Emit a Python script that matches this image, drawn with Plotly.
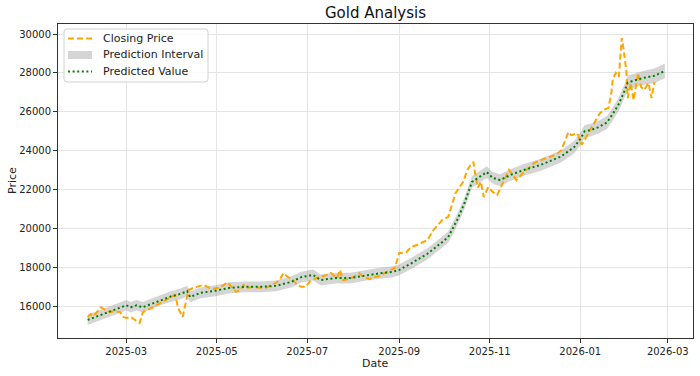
import plotly.graph_objects as go

# ---- data ----
close_dates = [
    "2025-02-03", "2025-02-05", "2025-02-07", "2025-02-10", "2025-02-12", "2025-02-14",
    "2025-02-18", "2025-02-21", "2025-02-25", "2025-02-27", "2025-03-01", "2025-03-04",
    "2025-03-07", "2025-03-10", "2025-03-12", "2025-03-14", "2025-03-18", "2025-03-21",
    "2025-03-25", "2025-03-28", "2025-03-31", "2025-04-03", "2025-04-05", "2025-04-08",
    "2025-04-10", "2025-04-12", "2025-04-15", "2025-04-18", "2025-04-22", "2025-04-26",
    "2025-04-29", "2025-05-02", "2025-05-06", "2025-05-08", "2025-05-11", "2025-05-14",
    "2025-05-17", "2025-05-19", "2025-05-22", "2025-05-26", "2025-05-30", "2025-06-03",
    "2025-06-07", "2025-06-10", "2025-06-13", "2025-06-15", "2025-06-18", "2025-06-21",
    "2025-06-24", "2025-06-27", "2025-06-30", "2025-07-03", "2025-07-07", "2025-07-10",
    "2025-07-14", "2025-07-17", "2025-07-21", "2025-07-23", "2025-07-25", "2025-07-29",
    "2025-08-01", "2025-08-05", "2025-08-08", "2025-08-12", "2025-08-15", "2025-08-19",
    "2025-08-22", "2025-08-26", "2025-08-29", "2025-09-01", "2025-09-03", "2025-09-06",
    "2025-09-09", "2025-09-13", "2025-09-16", "2025-09-20", "2025-09-24", "2025-09-30",
    "2025-10-04", "2025-10-09", "2025-10-14", "2025-10-17", "2025-10-19", "2025-10-21",
    "2025-10-22", "2025-10-24", "2025-10-26", "2025-10-28", "2025-10-31", "2025-11-03",
    "2025-11-06", "2025-11-09", "2025-11-12", "2025-11-14", "2025-11-17", "2025-11-19",
    "2025-11-24", "2025-11-27", "2025-12-01", "2025-12-05", "2025-12-10", "2025-12-14",
    "2025-12-17", "2025-12-19", "2025-12-22", "2025-12-24", "2025-12-26", "2025-12-30",
    "2026-01-02", "2026-01-05", "2026-01-08", "2026-01-12", "2026-01-14", "2026-01-17",
    "2026-01-20", "2026-01-22", "2026-01-23", "2026-01-25", "2026-01-27", "2026-01-29",
    "2026-01-30", "2026-02-01", "2026-02-02", "2026-02-04", "2026-02-06", "2026-02-09",
    "2026-02-11", "2026-02-13", "2026-02-16", "2026-02-18", "2026-02-20",
]
close_values = [
    15450, 15600, 15500, 15750, 15950, 15850,
    15700, 15750, 15700, 15450, 15400, 15450,
    15300, 15140, 15650, 15800, 15900, 16050,
    16200, 16350, 16480, 16580, 15900, 15450,
    16220, 16840, 16940, 17000, 17100, 16940,
    16900, 16950, 17100, 17250, 17000, 16740,
    16840, 17100, 16950, 17000, 16950, 16950,
    17100, 17200, 17450, 17710, 17500, 17400,
    17100, 17000, 17000, 17300, 17450, 17500,
    17600, 17710, 17450, 17870, 17350, 17400,
    17500, 17700, 17500, 17400, 17500, 17550,
    17700, 17850, 17970, 18740, 18740, 18790,
    19050, 19150, 19250, 19410, 19920, 20430,
    20600, 21830, 22390, 23010, 23260, 23420,
    22900, 22100, 22400, 21620, 22130, 21880,
    21720, 22200, 22750, 23010, 22700, 22490,
    22900, 23110, 23370, 23500, 23630, 23750,
    23880, 24000, 24550, 24960, 24800, 24900,
    24300, 24700, 25100, 25700, 25900, 26100,
    26200, 27000, 27700, 28000, 27790, 29790,
    29330, 28150, 26700, 27480, 26600, 27990,
    27280, 27120, 27480, 26700, 27530,
]

pred_dates = [
    "2025-02-03", "2025-02-10", "2025-02-17", "2025-02-24", "2025-03-01", "2025-03-04",
    "2025-03-08", "2025-03-12", "2025-03-17", "2025-03-24", "2025-03-31", "2025-04-07",
    "2025-04-11", "2025-04-13", "2025-04-20", "2025-04-30", "2025-05-10", "2025-05-20",
    "2025-05-31", "2025-06-10", "2025-06-20", "2025-06-27", "2025-07-05", "2025-07-10",
    "2025-07-20", "2025-07-30", "2025-08-10", "2025-08-20", "2025-08-27", "2025-09-01",
    "2025-09-10", "2025-09-20", "2025-09-30", "2025-10-04", "2025-10-10", "2025-10-15",
    "2025-10-20", "2025-10-25", "2025-10-30", "2025-11-03", "2025-11-08", "2025-11-15",
    "2025-11-24", "2025-12-05", "2025-12-19", "2025-12-28", "2026-01-01", "2026-01-04",
    "2026-01-08", "2026-01-13", "2026-01-19", "2026-01-23", "2026-01-27", "2026-01-31",
    "2026-02-02", "2026-02-06", "2026-02-13", "2026-02-20", "2026-02-27",
]
pred_values = [
    15300, 15500, 15700, 15900, 16050, 15950,
    16050, 15950, 16100, 16330, 16500, 16650,
    16780, 16480, 16690, 16800, 16950, 17000,
    17000, 17050, 17250, 17500, 17610, 17350,
    17450, 17450, 17600, 17710, 17760, 17870,
    18250, 18700, 19300, 19560, 20430, 21310,
    22390, 22650, 22900, 22600, 22490, 22750,
    23010, 23260, 23700, 24190, 24600, 25000,
    25060, 25200, 25450, 25900, 26400, 27100,
    27500, 27600, 27750, 27850, 28100,
]
# half-width of the prediction interval at each predicted point
pred_half = [
    260, 260, 260, 270, 270, 270,
    270, 270, 270, 270, 280, 280,
    280, 280, 280, 280, 280, 280,
    280, 280, 280, 280, 280, 280,
    280, 280, 280, 280, 280, 280,
    290, 290, 290, 290, 300, 300,
    300, 300, 300, 300, 300, 300,
    300, 310, 310, 320, 320, 320,
    330, 330, 330, 340, 340, 350,
    350, 360, 360, 370, 380,
]

title_text = "Gold Analysis"
x_title = "Date"
y_title = "Price"
legend_names = ["Closing Price", "Prediction Interval", "Predicted Value"]

upper = [v + h for v, h in zip(pred_values, pred_half)]
lower = [v - h for v, h in zip(pred_values, pred_half)]

FONT = "DejaVu Sans"
W, H = 700, 376
L, R, T, B = 58, 7, 24, 38          # plot area: x 58..693, y 24..338
PW, PH = W - L - R, H - T - B

ORANGE = "#FFA500"
GREEN = "#008000"
BAND = "rgba(150,150,150,0.4)"
CLOSE_DASH = "6px,3px"
PRED_DASH = "2px,2.6px"


def px_x(px):
    return (px - L) / PW


def px_y(py):
    return (H - B - py) / PH


fig = go.Figure()

fig.add_trace(go.Scatter(
    x=pred_dates + pred_dates[::-1],
    y=upper + lower[::-1],
    fill="toself", fillcolor=BAND,
    line=dict(width=0, color="rgba(0,0,0,0)"),
    mode="lines", name=legend_names[1], hoverinfo="skip", showlegend=False,
))
fig.add_trace(go.Scatter(
    x=close_dates, y=close_values, mode="lines",
    line=dict(color=ORANGE, width=2, dash=CLOSE_DASH),
    name=legend_names[0], showlegend=False,
))
fig.add_trace(go.Scatter(
    x=pred_dates, y=pred_values, mode="lines",
    line=dict(color=GREEN, width=2, dash=PRED_DASH),
    name=legend_names[2], showlegend=False,
))

axis_common = dict(
    showline=True, linecolor="#333", linewidth=1, mirror=True,
    showgrid=True, gridcolor="#e5e5e5", gridwidth=1,
    ticks="outside", ticklen=4, tickcolor="#333", tickwidth=1,
    tickfont=dict(family=FONT, size=10, color="#222"),
    zeroline=False, automargin=False,
)

# ---- hand-built legend (matplotlib style, upper left) ----
lg_left, lg_right, lg_top, lg_bottom = 64, 208, 29, 82
r = 3
shapes = [dict(
    type="path", xref="paper", yref="paper", layer="above",
    path=(f"M {px_x(lg_left + r)} {px_y(lg_top)} L {px_x(lg_right - r)} {px_y(lg_top)} "
          f"Q {px_x(lg_right)} {px_y(lg_top)} {px_x(lg_right)} {px_y(lg_top + r)} "
          f"L {px_x(lg_right)} {px_y(lg_bottom - r)} "
          f"Q {px_x(lg_right)} {px_y(lg_bottom)} {px_x(lg_right - r)} {px_y(lg_bottom)} "
          f"L {px_x(lg_left + r)} {px_y(lg_bottom)} "
          f"Q {px_x(lg_left)} {px_y(lg_bottom)} {px_x(lg_left)} {px_y(lg_bottom - r)} "
          f"L {px_x(lg_left)} {px_y(lg_top + r)} "
          f"Q {px_x(lg_left)} {px_y(lg_top)} {px_x(lg_left + r)} {px_y(lg_top)} Z"),
    fillcolor="rgba(255,255,255,0.85)", line=dict(color="#d0d0d0", width=1),
)]
rows = [38.5, 55, 71.5]
h_x0, h_x1, txt_x = 68, 92, 101
shapes.append(dict(type="line", xref="paper", yref="paper", layer="above",
                   x0=px_x(h_x0), x1=px_x(h_x1), y0=px_y(rows[0]), y1=px_y(rows[0]),
                   line=dict(color=ORANGE, width=2, dash=CLOSE_DASH)))
shapes.append(dict(type="rect", xref="paper", yref="paper", layer="above",
                   x0=px_x(h_x0), x1=px_x(h_x1), y0=px_y(rows[1] - 4), y1=px_y(rows[1] + 4),
                   fillcolor=BAND, line=dict(width=0)))
shapes.append(dict(type="line", xref="paper", yref="paper", layer="above",
                   x0=px_x(h_x0), x1=px_x(h_x1), y0=px_y(rows[2]), y1=px_y(rows[2]),
                   line=dict(color=GREEN, width=2, dash=PRED_DASH)))

annotations = []
for name, ry in zip(legend_names, rows):
    annotations.append(dict(
        text=name, xref="paper", yref="paper", x=px_x(txt_x), y=px_y(ry),
        xanchor="left", yanchor="middle", showarrow=False,
        font=dict(family=FONT, size=11, color="#222"),
    ))
annotations.append(dict(
    text=x_title, xref="paper", yref="paper", x=0.5, y=px_y(363),
    xanchor="center", yanchor="middle", showarrow=False,
    font=dict(family=FONT, size=11, color="#222"),
))
annotations.append(dict(
    text=y_title, xref="paper", yref="paper", x=px_x(12), y=0.5,
    xanchor="center", yanchor="middle", showarrow=False, textangle=-90,
    font=dict(family=FONT, size=11, color="#222"),
))

fig.update_layout(
    width=W, height=H,
    margin=dict(l=L, r=R, t=T, b=B),
    paper_bgcolor="white", plot_bgcolor="white",
    title=dict(text=title_text, x=(L + PW / 2) / W, xanchor="center",
               y=1 - 13 / H, yanchor="middle",
               font=dict(family=FONT, size=15, color="#111")),
    font=dict(family=FONT),
    showlegend=False,
    shapes=shapes,
    annotations=annotations,
    xaxis=dict(
        axis_common, type="date",
        range=["2025-01-14", "2026-03-18"],
        tick0="2025-01-01", dtick="M2", tickformat="%Y-%m",
    ),
    yaxis=dict(
        axis_common,
        range=[14370, 30514],
        dtick=2000, tickformat="d",
    ),
)

# remove the browser's default 8px page margin so the figure fills the window
fig.write_html(
    "out.html",
    config={"displayModeBar": False, "staticPlot": True},
    post_script="document.body.style.margin='0';document.body.style.overflow='hidden';",
)
